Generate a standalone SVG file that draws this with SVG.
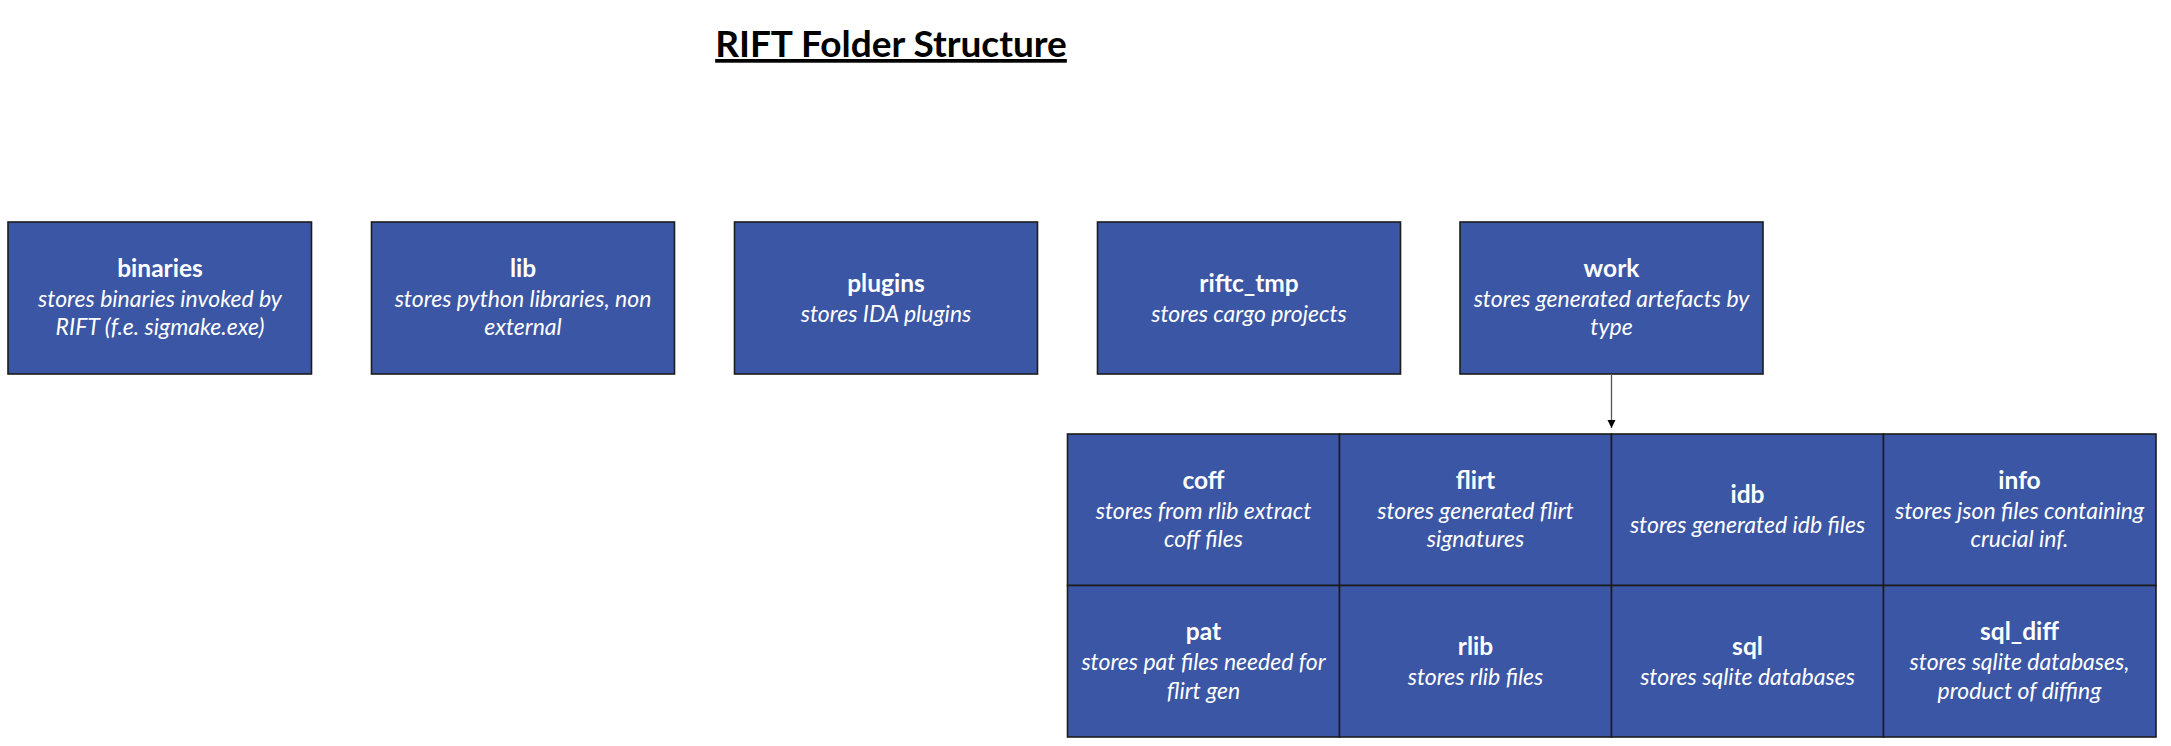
<svg xmlns="http://www.w3.org/2000/svg" width="2171" height="746" viewBox="0 0 2171 746">
<style>
.box{fill:#3B56A4;stroke:#1c1c1c;stroke-width:1.6}
.t{font-family:Lato,"Open Sans",sans-serif;font-weight:bold;font-size:24.5px;fill:#fff;text-anchor:middle}
.s{font-family:Lato,"Open Sans",sans-serif;font-style:italic;font-size:23px;fill:#fff;text-anchor:middle}
.title{font-family:Lato,"Open Sans",sans-serif;font-weight:bold;font-size:37px;fill:#000;text-anchor:middle;text-decoration:underline}
</style>
<defs>
<marker id="arr" markerWidth="10" markerHeight="10" refX="8" refY="4" orient="auto" markerUnits="userSpaceOnUse">
<path d="M0,0 L8,4 L0,8 Z" fill="#000"/>
</marker>
</defs>
<rect width="2171" height="746" fill="#fff"/>
<text class="title" x="891" y="57">RIFT Folder Structure</text>

<g id="binaries"><rect class="box" x="8" y="222" width="303.5" height="152"/>
<text class="t" x="160" y="277">binaries</text>
<text class="s" x="160" y="307">stores binaries invoked by</text>
<text class="s" x="160" y="335">RIFT (f.e. sigmake.exe)</text></g>

<g id="lib"><rect class="box" x="371.5" y="222" width="303" height="152"/>
<text class="t" x="523" y="277">lib</text>
<text class="s" x="523" y="307">stores python libraries, non</text>
<text class="s" x="523" y="335">external</text></g>

<g id="plugins"><rect class="box" x="734.5" y="222" width="303" height="152"/>
<text class="t" x="886" y="292">plugins</text>
<text class="s" x="886" y="322">stores IDA plugins</text></g>

<g id="riftc_tmp"><rect class="box" x="1097.5" y="222" width="303" height="152"/>
<text class="t" x="1249" y="292">riftc_tmp</text>
<text class="s" x="1249" y="322">stores cargo projects</text></g>

<g id="work"><rect class="box" x="1460" y="222" width="303" height="152"/>
<text class="t" x="1611.5" y="277">work</text>
<text class="s" x="1611.5" y="307">stores generated artefacts by</text>
<text class="s" x="1611.5" y="335">type</text></g>

<g id="connectors">
<line x1="1611.5" y1="374" x2="1611.5" y2="428" stroke="#555" stroke-width="1.3" marker-end="url(#arr)"/>
</g>

<g id="coff"><rect class="box" x="1067.5" y="434" width="272" height="151.5"/>
<text class="t" x="1203.5" y="489">coff</text>
<text class="s" x="1203.5" y="519">stores from rlib extract</text>
<text class="s" x="1203.5" y="547">coff files</text></g>

<g id="flirt"><rect class="box" x="1339.5" y="434" width="272" height="151.5"/>
<text class="t" x="1475.5" y="489">flirt</text>
<text class="s" x="1475.5" y="519">stores generated flirt</text>
<text class="s" x="1475.5" y="547">signatures</text></g>

<g id="idb"><rect class="box" x="1611.5" y="434" width="272" height="151.5"/>
<text class="t" x="1747.5" y="503">idb</text>
<text class="s" x="1747.5" y="533">stores generated idb files</text></g>

<g id="info"><rect class="box" x="1883.5" y="434" width="272.5" height="151.5"/>
<text class="t" x="2019.5" y="489">info</text>
<text class="s" x="2019.5" y="519">stores json files containing</text>
<text class="s" x="2019.5" y="547">crucial inf.</text></g>

<g id="pat"><rect class="box" x="1067.5" y="585.5" width="272" height="151.5"/>
<text class="t" x="1203.5" y="640">pat</text>
<text class="s" x="1203.5" y="670">stores pat files needed for</text>
<text class="s" x="1203.5" y="699">flirt gen</text></g>

<g id="rlib"><rect class="box" x="1339.5" y="585.5" width="272" height="151.5"/>
<text class="t" x="1475.5" y="655">rlib</text>
<text class="s" x="1475.5" y="685">stores rlib files</text></g>

<g id="sql"><rect class="box" x="1611.5" y="585.5" width="272" height="151.5"/>
<text class="t" x="1747.5" y="655">sql</text>
<text class="s" x="1747.5" y="685">stores sqlite databases</text></g>

<g id="sql_diff"><rect class="box" x="1883.5" y="585.5" width="272.5" height="151.5"/>
<text class="t" x="2019.5" y="640">sql_diff</text>
<text class="s" x="2019.5" y="670">stores sqlite databases,</text>
<text class="s" x="2019.5" y="699">product of diffing</text></g>
</svg>
